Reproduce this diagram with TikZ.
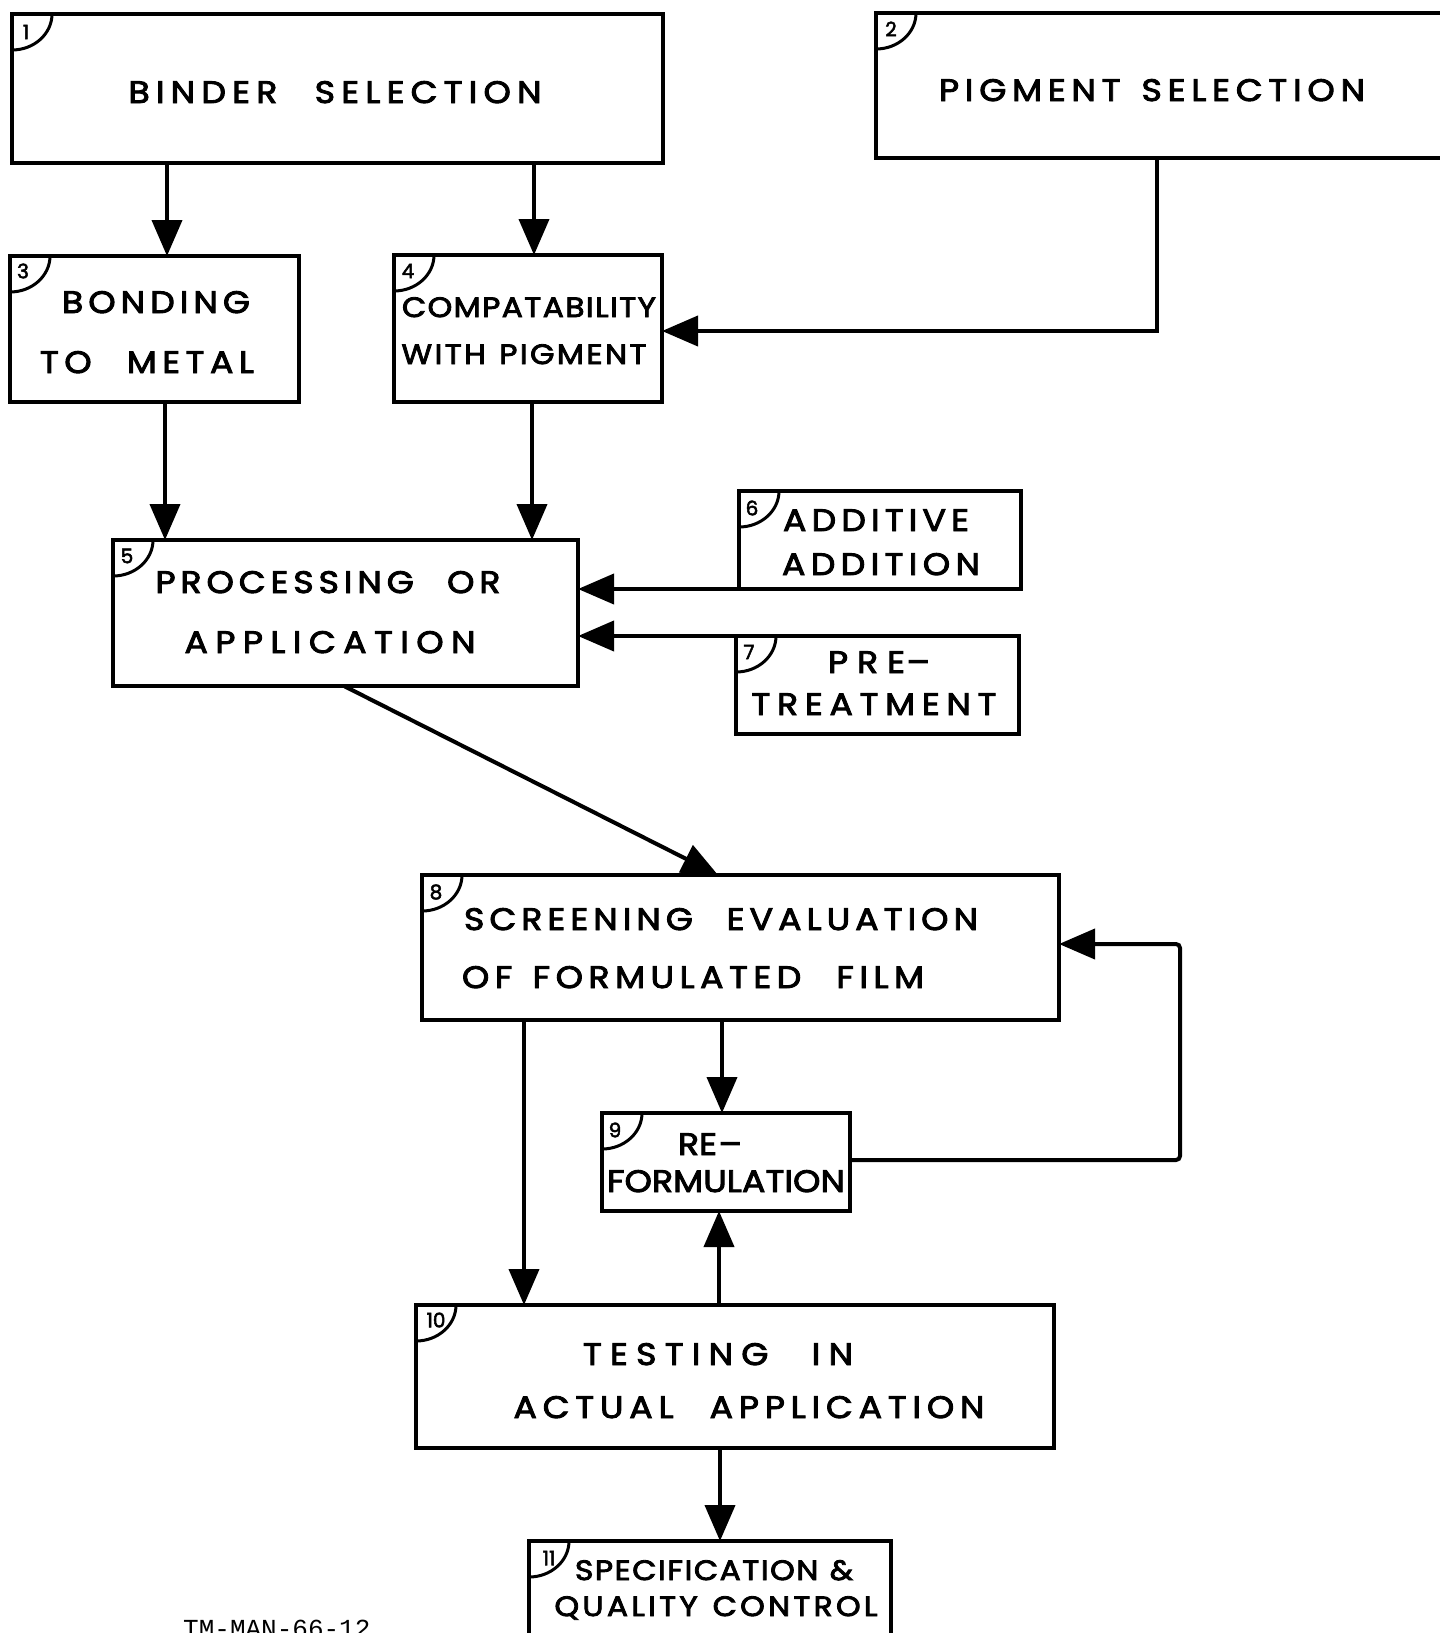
\documentclass[tikz,border=0pt]{standalone}
\usepackage{fontspec}
\setmainfont{Poppins}[FakeBold=3,FakeStretch=1.12]
\newfontfamily\numf{Poppins}[FakeBold=2.5]
\newfontfamily\monof{Liberation Mono}
\usetikzlibrary{arrows.meta,fit}
\def\sprA#1{#1\sprB}
\def\sprB#1{\ifx#1\relax\else\hfil#1\expandafter\sprB\fi}
\newcommand\spr[2]{\hbox to #1pt{\sprA#2\relax}}
\begin{document}
\begin{tikzpicture}[x=1pt,y=-1pt,
 box/.style={draw, line width=4pt, inner sep=0pt, outer sep=0pt},
 lbl/.style={inner sep=0pt, anchor=base, font=\fontsize{31}{31}\selectfont},
 slbl/.style={lbl, font=\fontsize{28}{28}\selectfont},
 num/.style={inner sep=0pt, font=\numf\fontsize{20}{20}\selectfont},
 arr/.style={line width=4pt, -{Triangle[width=30pt,length=36pt]}},
 corner/.style={line width=3pt}
]
\useasboundingbox (0,0) rectangle (1440,1633);
\clip (0,0) rectangle (1440,1633);
\fill[white] (0,0) rectangle (1440,1633);

% boxes
\node[box, fit={(12,14) (663,163)}] (b1) {};
\node[box, fit={(876,13) (1460,158)}] (b2) {};
\node[box, fit={(10,256) (299,402)}] (b3) {};
\node[box, fit={(394,255) (662,402)}] (b4) {};
\node[box, fit={(113,540) (578,686)}] (b5) {};
\node[box, fit={(739,491) (1021,589)}] (b6) {};
\node[box, fit={(736,636) (1019,734)}] (b7) {};
\node[box, fit={(422,875) (1059,1020)}] (b8) {};
\node[box, fit={(602,1113) (850,1211)}] (b9) {};
\node[box, fit={(416,1305) (1054,1448)}] (b10) {};
\node[box, fit={(529,1541) (891,1665)}] (b11) {};

% corner marks
\foreach \b/\n/\dx/\dy in {b1/1/14/18,b2/2/15/16,b3/3/13/15,b4/4/14/16,b5/5/14/16,b6/6/13/17,b7/7/13/16,b8/8/14/17,b9/9/13/17,b10/10/20/15,b11/11/20/17}{
  \draw[corner] ([yshift=-36pt]\b.north west) arc[start angle=-90,end angle=0,x radius=40pt,y radius=36pt];
  \node[num] (n\n) at ([xshift=\dx pt,yshift=-\dy pt]\b.north west) {\n};
}

% labels
\node[lbl] (t1) at (335,103) {\spr{413}{BINDER~~SELECTION}};
\node[lbl] (t2) at (1152,101) {\spr{426}{PIGMENT~SELECTION}};
\node[lbl] (t3a) at (156,313) {\spr{188}{BONDING}};
\node[lbl] (t3b) at (147,373) {\spr{214}{TO~~METAL}};
\node[slbl] (t4a) at (529,317) {\spr{254}{COMPATABILITY}};
\node[slbl] (t4b) at (524,364) {\spr{245}{WITH~PIGMENT}};
\node[lbl] (t5a) at (328,593) {\spr{345}{PROCESSING~~OR}};
\node[lbl] (t5b) at (330,653) {\spr{291}{APPLICATION}};
\node[lbl] (t6a) at (876,531) {\spr{186}{ADDITIVE}};
\node[lbl] (t6b) at (881,575) {\spr{198}{ADDITION}};
\node[lbl] (t7a) at (879,673) {\hbox to 102pt{\spr{77}{PRE}\hfil –}};
\node[lbl] (t7b) at (874,715) {\spr{245}{TREATMENT}};
\node[lbl] (t8a) at (721,930) {\spr{514}{SCREENING~~EVALUATION}};
\node[lbl] (t8b) at (693,988) {\spr{462}{OF~FORMULATED~~FILM}};
\node[lbl] (t9a) at (710,1155) {\hbox to 64pt{\spr{35}{RE}\hfil –}};
\node[lbl] (t9b) at (726,1192) {\spr{238}{FORMULATION}};
\node[lbl] (t10a) at (718,1365) {\spr{270}{TESTING~~IN}};
\node[lbl] (t10b) at (749,1418) {\spr{471}{ACTUAL~~APPLICATION}};
\node[slbl] (t11a) at (714,1580) {\spr{278}{SPECIFICATION~\&}};
\node[slbl] (t11b) at (716,1616) {\spr{323}{QUALITY~CONTROL}};

\node[inner sep=0pt, anchor=north west, font=\monof\fontsize{26}{26}\selectfont] (doc) at (183,1620) {TM-MAN-66-12};

% helper coordinates
\coordinate (x13) at (167,0);
\coordinate (x14) at (534,0);
\coordinate (x35) at (165,0);
\coordinate (x45) at (532,0);
\coordinate (p2) at (1157,331);
\coordinate (s58) at (344,0);
\coordinate (e58) at (718,0);
\coordinate (x89) at (722,0);
\coordinate (x810) at (524,0);
\coordinate (x109) at (719,0);
\coordinate (x1011) at (720,0);
\coordinate (l1) at (1180,1160);
\coordinate (l2) at (1180,944);

% connectors
\draw[arr] (b1.south -| x13) -- (b3.north -| x13);
\draw[arr] (b1.south -| x14) -- (b4.north -| x14);
\draw[arr] (b2.south -| p2) -- (p2) -- (b4.east |- p2);
\draw[arr] (b3.south -| x35) -- (b5.north -| x35);
\draw[arr] (b4.south -| x45) -- (b5.north -| x45);
\draw[arr] (b6.south west) -- (b5.east |- b6.south west);
\draw[arr] (b7.north west) -- (b5.east |- b7.north west);
\draw[arr] (b5.south -| s58) -- (b8.north -| e58);
\draw[arr] (b8.south -| x89) -- (b9.north -| x89);
\draw[arr] (b8.south -| x810) -- (b10.north -| x810);
\draw[arr] (b10.north -| x109) -- (b9.south -| x109);
\draw[arr, rounded corners=4pt] (b9.east |- l1) -- (l1) -- (l2) -- (b8.east |- l2);
\draw[arr] (b10.south -| x1011) -- (b11.north -| x1011);
\end{tikzpicture}
\end{document}
